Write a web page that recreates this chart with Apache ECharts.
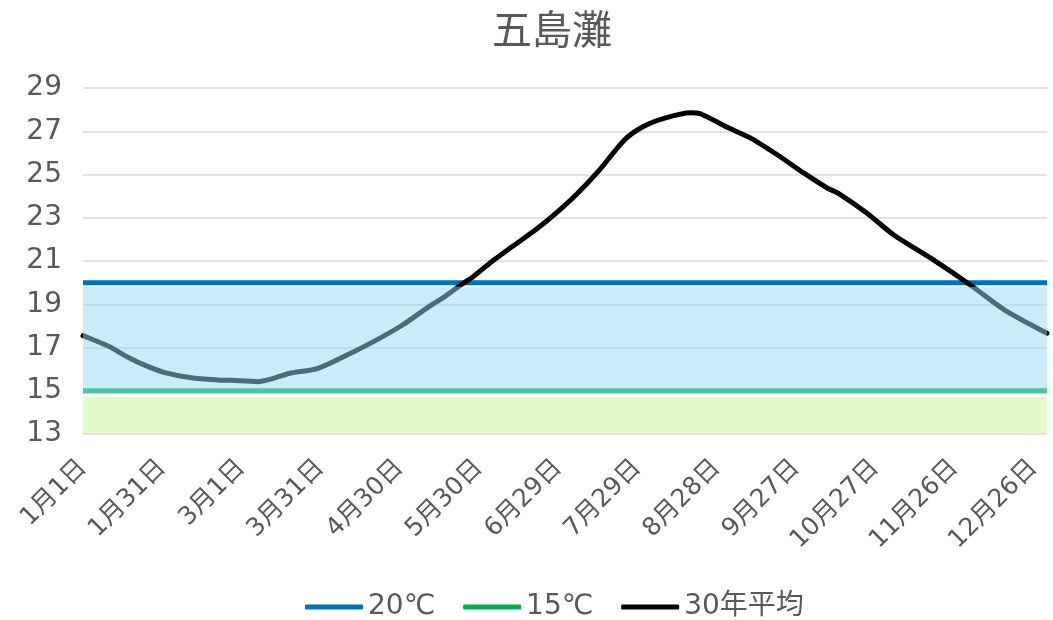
<!DOCTYPE html>
<html>
<head>
<meta charset="utf-8">
<script src="https://cdn.jsdelivr.net/npm/echarts@6/dist/echarts.min.js"></script>
<style>html,body{margin:0;padding:0;background:#fff}#c{width:1053px;height:620px}</style>
</head>
<body>
<div id="c"></div>
<script>
// tick labels shown every 30 days (leap year calendar, 366 days)
const tickLabels = ['1月1日','1月31日','3月1日','3月31日','4月30日','5月30日','6月29日','7月29日','8月28日','9月27日','10月27日','11月26日','12月26日'];
const dayCount = 366;
const days  = [1,6,11,18,25,32,42,52,57,67,73,79,90,101,111,122,132,138,144,149,155,163,173,180,188,196,206,213,221,231,235,245,254,264,274,283,287,298,308,323,337,350,366];
const avg30 = [17.55,17.3,17.04,16.55,16.15,15.84,15.6,15.5,15.48,15.42,15.57,15.8,16.04,16.65,17.27,18.04,18.89,19.35,19.89,20.3,20.9,21.62,22.5,23.2,24.1,25.13,26.6,27.21,27.6,27.86,27.8,27.18,26.67,25.9,25.06,24.36,24.13,23.2,22.2,21.05,19.89,18.73,17.66];
const line20 = [20, 20];
const line15 = [15, 15];
const blueBand = [14.85, 19.81];
const greenBand = [13, 14.72];

const categories = [];
for (let i = 0; i < dayCount; i++) categories.push(String(i + 1));
const endIdx = [0, dayCount - 1];

const FONT = '"DejaVu Sans", "Noto Sans CJK JP", sans-serif';
const chart = echarts.init(document.getElementById('c'));
chart.setOption({
  animation: false,
  textStyle: { fontFamily: FONT },
  title: {
    text: '五島灘', left: 487, top: 4,
    textStyle: { fontSize: 40, fontWeight: 'normal', color: '#595959', fontFamily: '"Noto Sans CJK JP", sans-serif' }
  },
  legend: {
    top: 588, left: 300, itemWidth: 58, itemHeight: 5, itemGap: 28,
    icon: 'roundRect',
    textStyle: { fontSize: 28, color: '#595959', fontFamily: FONT },
    data: ['20℃', '15℃', '30年平均']
  },
  grid: { left: 83, right: 6, top: 88, bottom: 186, containLabel: false },
  xAxis: {
    type: 'category', data: categories, boundaryGap: false,
    axisLine: { show: false }, axisTick: { show: false },
    axisLabel: {
      interval: 29, rotate: 45, fontSize: 25, color: '#595959', margin: 30, fontFamily: FONT,
      formatter: (v, idx) => (idx % 30 === 0 ? tickLabels[idx / 30] : '')
    },
    splitLine: { show: false }
  },
  yAxis: {
    type: 'value', min: 13, max: 29, interval: 2,
    axisLine: { show: false }, axisTick: { show: false },
    axisLabel: { fontSize: 28, color: '#595959', margin: 21, fontFamily: FONT },
    splitLine: { lineStyle: { color: '#d9d9d9', width: 1.5 } }
  },
  series: [
    {
      name: '20℃', type: 'line', z: 3, symbol: 'none',
      data: endIdx.map((x, i) => [x, line20[i]]),
      lineStyle: { color: '#0070c0', width: 5 }, itemStyle: { color: '#0070c0' }
    },
    {
      name: '15℃', type: 'line', z: 3, symbol: 'none',
      data: endIdx.map((x, i) => [x, line15[i]]),
      lineStyle: { color: '#00b050', width: 5 }, itemStyle: { color: '#00b050' }
    },
    {
      name: '30年平均', type: 'line', z: 3, symbol: 'none', smooth: 0.25,
      data: days.map((d, i) => [d - 1, avg30[i]]),
      lineStyle: { color: '#000000', width: 5, cap: 'round', join: 'round' }, itemStyle: { color: '#000000' }
    },
    {
      name: 'bands', type: 'line', z: 10, symbol: 'none', data: [],
      silent: true,
      markArea: {
        silent: true, z: 10,
        data: [
          [ { coord: [0, blueBand[1]], itemStyle: { color: 'rgba(150,218,244,0.5)' } }, { coord: [dayCount - 1, blueBand[0]] } ],
          [ { coord: [0, greenBand[1]], itemStyle: { color: 'rgba(197,248,146,0.5)' } }, { coord: [dayCount - 1, greenBand[0]] } ]
        ]
      }
    }
  ]
});
</script>
</body>
</html>
